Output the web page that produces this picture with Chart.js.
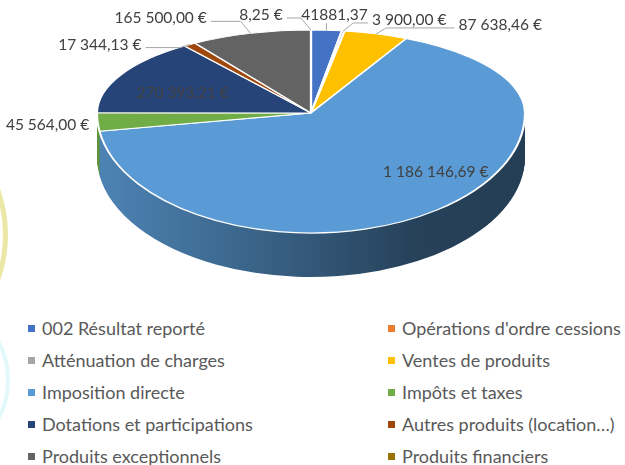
<!DOCTYPE html>
<html>
<head>
<meta charset="utf-8">
<script src="https://cdn.jsdelivr.net/npm/chart.js@4.4.0/dist/chart.umd.min.js"></script>
<style>
  body { margin: 0; background: #fff; width: 625px; height: 465px; overflow: hidden; position: relative; font-family: Lato, sans-serif; }
  .deco { position: absolute; box-sizing: border-box; border-radius: 50%; }
  #deco1 { left: -268px; top: 97px; width: 276px; height: 276px; border: 5px solid rgba(232, 228, 150, 0.85); }
  #deco2 { left: -160px; top: 295px; width: 170px; height: 170px; border: 4px solid #e3f8fa; }
  #wrap { position: absolute; left: 0; top: 0; width: 625px; height: 300px; }
  #legende { position: absolute; left: 28px; top: 312px; display: grid; grid-template-columns: 360px 237px; grid-auto-rows: 32px; }
  .item { display: flex; align-items: center; font-size: 18px; color: #595959; white-space: nowrap; }
  .item span.carre { width: 7px; height: 7px; margin-right: 7px; flex: none; }
</style>
</head>
<body>
<div class="deco" id="deco1"></div>
<div class="deco" id="deco2"></div>
<div id="wrap"><canvas id="recettes" width="625" height="300"></canvas></div>
<div id="legende"></div>
<script>
// données
const categories = [
    '002 Résultat reporté', "Opérations d'ordre cessions",
    'Atténuation de charges', 'Ventes de produits',
    'Imposition directe', 'Impôts et taxes',
    'Dotations et participations', 'Autres produits (location…)',
    'Produits exceptionnels', 'Produits financiers'
];
const valeurs = [41881.37, 0, 3900, 87638.46, 1186146.69, 45564, 270393.21, 17344.13, 165500, 8.25];
const etiquettes = ['41881,37', '', '3 900,00 €', '87 638,46 €', '1 186 146,69 €', '45 564,00 €',
    '270 393,21 €', '17 344,13 €', '165 500,00 €', '8,25 €'];
const couleurs = ['#4472C4', '#ED7D31', '#A5A5A5', '#FFC000', '#5B9BD5', '#70AD47',
    '#264478', '#9E480E', '#636363', '#997300'];

// placement des étiquettes (décalage depuis le bord de la part)
const placement = [
    { dx: 8, dy: -15 }, null, { dx: 66, dy: -11 }, { dx: 124, dy: -9 },
    { dx: 49, dy: 1, inside: true }, { dx: -50, dy: 3 },
    { dx: -14, dy: 3, inside: true }, { dx: -90, dy: 0 },
    { dx: -90, dy: -15 }, { dx: -50, dy: -15 }
];

// légende html
let legende = document.getElementById('legende');
for (let i = 0; i < categories.length; i++) {
    let item = document.createElement('div');
    item.className = 'item';
    item.innerHTML = '<span class="carre" style="background:' + couleurs[i] + '"></span>' + categories[i];
    legende.appendChild(item);
}

function assombrir(hex, f) {
    let r = parseInt(hex.substr(1, 2), 16), g = parseInt(hex.substr(3, 2), 16), b = parseInt(hex.substr(5, 2), 16);
    return 'rgb(' + Math.round(r * f) + ',' + Math.round(g * f) + ',' + Math.round(b * f) + ')';
}

// moitié haute (ryHaut) ou basse (ryBas) : imitation de la perspective
function ellipse(ctx, o, cx, cy, r, d, bas) {
    const W = ctx.canvas.width, H = ctx.canvas.height;
    ctx.beginPath();
    if (bas) ctx.rect(0, o.cy + d, W, H);
    else ctx.rect(0, 0, W, o.cy + d);
    ctx.clip();
    ctx.translate(o.cx, o.cy + d);
    ctx.scale(o.rx / r, (bas ? o.ryBas : o.ryHaut) / r);
    ctx.translate(-cx, -cy);
}

const pie3d = {
    id: 'pie3d',
    beforeDatasetsDraw(chart, args, o) {
        const ctx = chart.ctx;
        const arcs = chart.getDatasetMeta(0).data;
        const cx = arcs[0].x, cy = arcs[0].y, r = arcs[0].outerRadius;
        const grads = couleurs.map(c => {
            let g = ctx.createLinearGradient(cx - r, 0, cx + r, 0);
            g.addColorStop(0, assombrir(c, 0.85));
            g.addColorStop(0.75, assombrir(c, 0.42));
            g.addColorStop(1, assombrir(c, 0.4));
            return g;
        });
        // côté du camembert
        for (let d = o.depth; d > 0; d--) {
            ctx.save();
            ellipse(ctx, o, cx, cy, r, d, true);
            arcs.forEach((arc, i) => {
                if (arc.endAngle - arc.startAngle <= 0) return;
                ctx.beginPath();
                ctx.moveTo(cx, cy);
                ctx.arc(cx, cy, r, arc.startAngle, arc.endAngle);
                ctx.closePath();
                ctx.fillStyle = grads[i];
                ctx.fill();
            });
            ctx.restore();
        }
        ctx.save();
        ellipse(ctx, o, cx, cy, r, 0, false);
    },
    afterDatasetsDraw(chart, args, o) {
        const ctx = chart.ctx;
        ctx.restore();
        const meta = chart.getDatasetMeta(0);
        const arcs = meta.data;
        const cx = arcs[0].x, cy = arcs[0].y, r = arcs[0].outerRadius;
        // moitié basse de la face
        ctx.save();
        ellipse(ctx, o, cx, cy, r, 0, true);
        meta.controller.draw();
        ctx.restore();

        ctx.save();
        ctx.font = '15.5px Lato';
        ctx.textAlign = 'center';
        ctx.textBaseline = 'middle';
        ctx.strokeStyle = '#a6a6a6';
        ctx.lineWidth = 1;
        arcs.forEach((arc, i) => {
            const p = placement[i];
            if (!p) return;
            const mid = (arc.startAngle + arc.endAngle) / 2;
            const f = p.inside ? 0.6 : 1;
            const s = Math.sin(mid);
            const ax = o.cx + Math.cos(mid) * o.rx * f;
            const ay = o.cy + s * (s < 0 ? o.ryHaut : o.ryBas) * f;
            const lx = ax + p.dx, ly = ay + p.dy;
            const txt = etiquettes[i];
            const tw = ctx.measureText(txt).width;
            ctx.fillStyle = '#404040';
            ctx.fillText(txt, lx, ly);
            if (p.inside) return;
            const gauche = lx - tw / 2, droite = lx + tw / 2;
            ctx.beginPath();
            if (ax >= gauche && ax <= droite) {
                ctx.moveTo(ax, ly + 8);
                ctx.lineTo(ax, ay);
            } else if (droite < ax && ax - droite > 20) {
                ctx.moveTo(droite + 4, ly + 3);
                ctx.lineTo(ax - 10, ly + 3);
                ctx.lineTo(ax, ay);
            } else if (gauche > ax && gauche - ax > 20) {
                ctx.moveTo(gauche - 4, ly + 3);
                ctx.lineTo(ax + 10, ly + 3);
                ctx.lineTo(ax, ay);
            }
            ctx.stroke();
        });
        ctx.restore();
    }
};

const config = {
    type: 'pie',
    data: {
        labels: categories,
        datasets: [{
            data: valeurs,
            backgroundColor: couleurs,
            borderColor: '#ffffff',
            borderWidth: 1.5,
            clip: false
        }]
    },
    options: {
        responsive: false,
        animation: false,
        events: [],
        layout: { padding: 0 },
        plugins: {
            legend: { display: false },
            tooltip: { enabled: false },
            pie3d: { cx: 311, cy: 113, rx: 214, ryHaut: 83, ryBas: 120, depth: 44 }
        }
    },
    plugins: [pie3d]
};
let ctx = document.getElementById('recettes').getContext('2d');
let graphique = new Chart(ctx, config);
</script>
</body>
</html>
